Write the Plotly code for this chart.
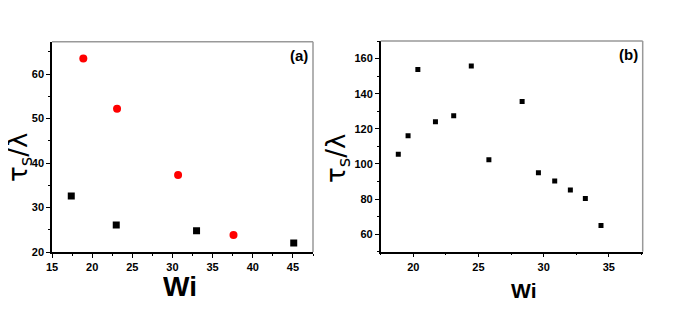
import plotly.graph_objects as go

# Panel (a)
a_red_x = [18.9, 23.1, 30.7, 37.6]
a_red_y = [63.5, 52.2, 37.3, 23.8]
a_blk_x = [17.4, 23.0, 33.0, 45.1]
a_blk_y = [32.6, 26.1, 24.8, 22.0]

# Panel (b)
b_x = [18.85, 19.6, 20.35, 21.7, 23.1, 24.45, 25.8, 28.35, 29.6, 30.85, 32.05, 33.2, 34.4]
b_y = [105.5, 116.0, 153.7, 124.0, 127.4, 155.8, 102.3, 135.5, 94.9, 90.2, 85.2, 80.3, 64.9]

FONT = "Liberation Sans"
W, H = 665, 307

fig = go.Figure()
fig.add_trace(go.Scatter(x=a_blk_x, y=a_blk_y, mode="markers", xaxis="x", yaxis="y",
                         marker=dict(symbol="square", size=7, color="black")))
fig.add_trace(go.Scatter(x=a_red_x, y=a_red_y, mode="markers", xaxis="x", yaxis="y",
                         marker=dict(symbol="circle", size=8, color="red")))
fig.add_trace(go.Scatter(x=b_x, y=b_y, mode="markers", xaxis="x2", yaxis="y2",
                         marker=dict(symbol="square", size=5, color="black")))

tickfont = dict(family=FONT, size=11, color="black", weight="bold")
common = dict(showline=True, linecolor="black", linewidth=1.5, ticks="outside", ticklen=4,
              tickwidth=1, tickcolor="black", showgrid=False, zeroline=False,
              tickfont=tickfont, mirror=False, automargin=False)

ytitle_font = dict(family="DejaVu Sans", size=26, color="black")

fig.update_layout(
    width=W, height=H, margin=dict(l=0, r=0, t=0, b=0, autoexpand=False),
    paper_bgcolor="white", plot_bgcolor="white", showlegend=False,
    xaxis=dict(domain=[44 / W, 305 / W], range=[15, 47.5], dtick=5, anchor="y",
               minor=dict(dtick=2.5, ticks="outside", ticklen=2, tickcolor="black"),
               **common),
    yaxis=dict(domain=[1 - 244 / H, 1 - 33.7 / H], range=[20, 67.3], dtick=10, anchor="x",
               minor=dict(dtick=5, ticks="outside", ticklen=2, tickcolor="black"),
               **common),
    xaxis2=dict(domain=[372.7 / W, 634.7 / W], range=[17.5, 37.6], dtick=5, anchor="y2",
                minor=dict(dtick=2.5, ticks="outside", ticklen=2, tickcolor="black"),
                **common),
    yaxis2=dict(domain=[1 - 243.7 / H, 1 - 33 / H], range=[50, 170], dtick=20, anchor="x2",
                minor=dict(dtick=10, ticks="outside", ticklen=2, tickcolor="black"),
                **common),
    shapes=[
        dict(type="line", xref="x domain", yref="y domain", x0=0, x1=1, y0=1, y1=1, line=dict(color="#999999", width=1.5)),
        dict(type="line", xref="x domain", yref="y domain", x0=1, x1=1, y0=0, y1=1, line=dict(color="#999999", width=1.5)),
        dict(type="line", xref="x2 domain", yref="y2 domain", x0=0, x1=1, y0=1, y1=1, line=dict(color="#999999", width=1.5)),
        dict(type="line", xref="x2 domain", yref="y2 domain", x0=1, x1=1, y0=0, y1=1, line=dict(color="#999999", width=1.5)),
    ],
    annotations=[
        dict(text="(a)", xref="x domain", yref="y domain", x=0.99, y=0.985, xanchor="right", yanchor="top",
             showarrow=False, font=dict(family=FONT, size=15, color="black", weight="bold")),
        dict(text="(b)", xref="x2 domain", yref="y2 domain", x=0.99, y=0.985, xanchor="right", yanchor="top",
             showarrow=False, font=dict(family=FONT, size=15, color="black", weight="bold")),
        dict(text="τ<sub>s</sub>/λ", xref="paper", yref="paper", x=11 / W, y=1 - 149 / H,
             xanchor="center", yanchor="middle", textangle=-90, showarrow=False, font=ytitle_font),
        dict(text="τ<sub>s</sub>/λ", xref="paper", yref="paper", x=329 / W, y=1 - 151 / H,
             xanchor="center", yanchor="middle", textangle=-90, showarrow=False, font=ytitle_font),
        dict(text="Wi", xref="paper", yref="paper", x=172 / W, y=1 - 278 / H,
             xanchor="center", yanchor="middle", showarrow=False, height=26,
             font=dict(family=FONT, size=28, color="black", weight="bold")),
        dict(text="Wi", xref="paper", yref="paper", x=515 / W, y=1 - 282 / H,
             xanchor="center", yanchor="middle", showarrow=False,
             font=dict(family=FONT, size=21, color="black", weight="bold")),
    ],
)

fig.write_html("out.html")
